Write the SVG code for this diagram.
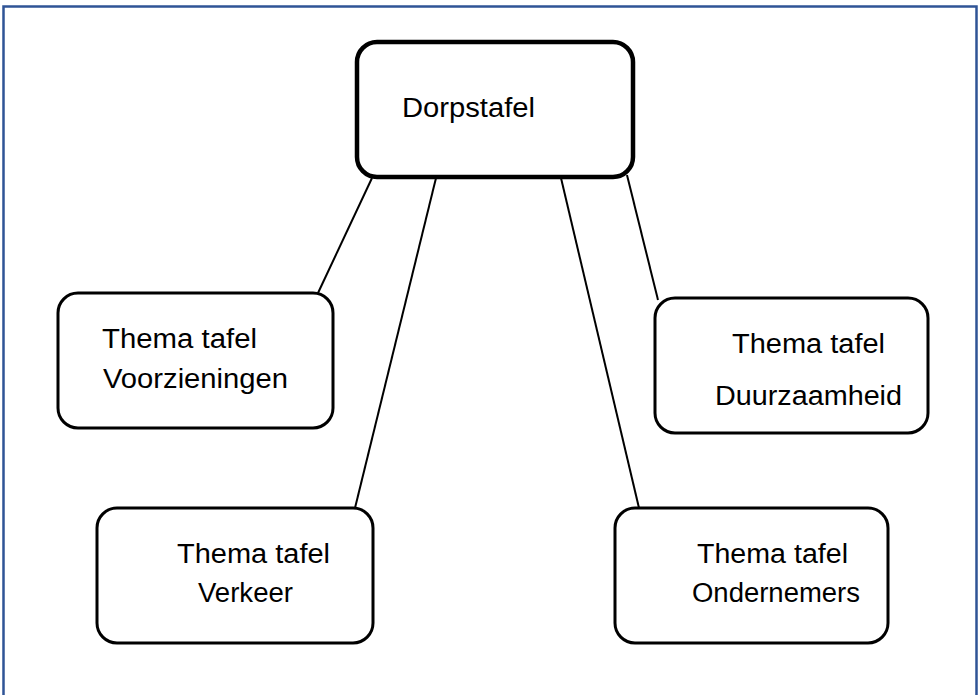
<svg xmlns="http://www.w3.org/2000/svg" width="980" height="695" viewBox="0 0 980 695">
<style>
.frame{fill:none;stroke:#2f5496;stroke-width:2.5}
.node{fill:#fff;stroke:#000;stroke-width:3}
.main{fill:#fff;stroke:#000;stroke-width:4.5}
.lbl{font-family:"Liberation Sans",Arial,sans-serif;font-size:27px;fill:#000}
.conn line{stroke:#000;stroke-width:2}
</style>
<rect width="980" height="695" fill="#fff"/>
<path class="frame" d="M3.5,700 V6.5 H976.5 V700"/>
<g id="connectors" class="conn">
<line x1="372" y1="178" x2="318" y2="293"/>
<line x1="436" y1="178" x2="355" y2="508"/>
<line x1="561" y1="178" x2="639" y2="508"/>
<line x1="627" y1="175" x2="658" y2="300"/>
</g>
<g id="dorpstafel">
<rect class="main" x="357" y="42" width="276" height="135" rx="20"/>
<text class="lbl" x="402" y="117" textLength="133" lengthAdjust="spacingAndGlyphs">Dorpstafel</text>
</g>
<g id="voorzieningen">
<rect class="node" x="58" y="293" width="275" height="135" rx="20"/>
<text class="lbl" x="102" y="348" textLength="155" lengthAdjust="spacingAndGlyphs">Thema tafel</text>
<text class="lbl" x="103" y="388" textLength="185" lengthAdjust="spacingAndGlyphs">Voorzieningen</text>
</g>
<g id="duurzaamheid">
<rect class="node" x="655" y="298" width="273" height="135" rx="20"/>
<text class="lbl" x="732" y="353" textLength="153" lengthAdjust="spacingAndGlyphs">Thema tafel</text>
<text class="lbl" x="715" y="405" textLength="187" lengthAdjust="spacingAndGlyphs">Duurzaamheid</text>
</g>
<g id="verkeer">
<rect class="node" x="97" y="508" width="276" height="135" rx="20"/>
<text class="lbl" x="177" y="563" textLength="153" lengthAdjust="spacingAndGlyphs">Thema tafel</text>
<text class="lbl" x="198" y="602" textLength="95" lengthAdjust="spacingAndGlyphs">Verkeer</text>
</g>
<g id="ondernemers">
<rect class="node" x="615" y="508" width="273" height="135" rx="20"/>
<text class="lbl" x="697" y="563" textLength="151" lengthAdjust="spacingAndGlyphs">Thema tafel</text>
<text class="lbl" x="692" y="602" textLength="168" lengthAdjust="spacingAndGlyphs">Ondernemers</text>
</g>
</svg>
